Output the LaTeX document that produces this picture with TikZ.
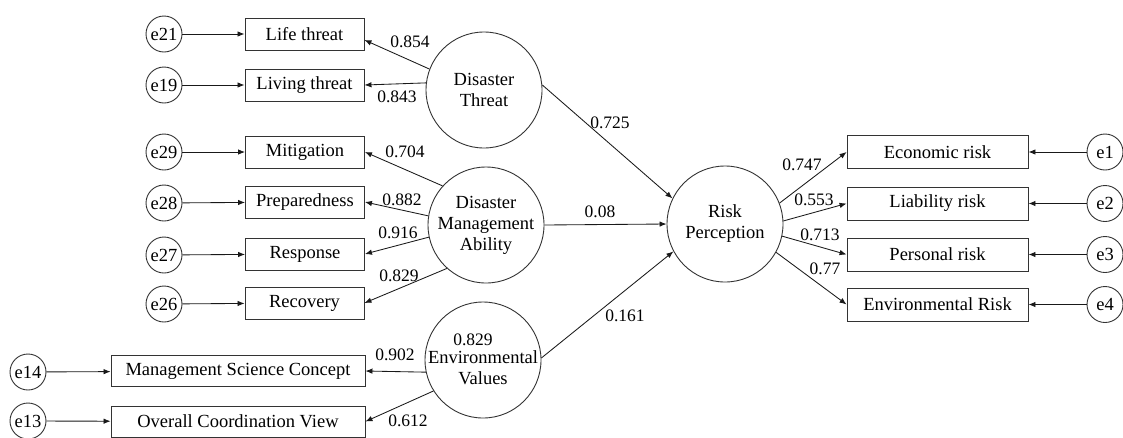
\documentclass[tikz,border=0pt]{standalone}
\usepackage{fontspec}
\setmainfont{Liberation Serif}
\newfontfamily\tnr{Liberation Serif}
\usetikzlibrary{arrows.meta}
\begin{document}
\begin{tikzpicture}[x=1pt,y=-1pt,
  every node/.style={font=\tnr\fontsize{18.5}{21}\selectfont},
  obs/.style={draw=black!80, line width=0.9pt, minimum height=32pt, inner sep=0pt},
  err/.style={draw=black!80, line width=0.9pt, circle, minimum size=36pt, inner sep=0pt},
  lat/.style={draw=black!80, line width=0.9pt, circle, minimum size=116pt, inner sep=0pt, align=center},
  lbl/.style={font=\tnr\fontsize{17.5}{20}\selectfont, inner sep=0pt},
  conn/.style={line width=0.85pt, draw=black!90, -{Latex[length=7pt,width=5.5pt]}},
]
\useasboundingbox (0,0) rectangle (1123,437);

% error terms left
\node[err] (e21) at (164,34) {e21};
\node[err] (e19) at (164,85) {e19};
\node[err] (e29) at (164,152) {e29};
\node[err] (e28) at (164,203) {e28};
\node[err] (e27) at (164,255) {e27};
\node[err] (e26) at (164,304) {e26};
\node[err] (e14) at (28,372) {e14};
\node[err] (e13) at (28,421) {e13};

% observed left
\node[obs, minimum width=119pt] (LT) at (304.5,34) {Life threat};
\node[obs, minimum width=119pt] (LV) at (304.5,85) {Living threat};
\node[obs, minimum width=119pt] (MI) at (305,152) {Mitigation};
\node[obs, minimum width=119pt] (PR) at (305,202) {Preparedness};
\node[obs, minimum width=119pt] (RS) at (305,254) {Response};
\node[obs, minimum width=119pt] (RC) at (304.5,303) {Recovery};
\node[obs, minimum width=254pt, minimum height=31pt] (MSC) at (238,371) {Management Science Concept};
\node[obs, minimum width=254pt, minimum height=31pt] (OCV) at (238,421.5) {Overall Coordination View};

% latent
\node[lat] (DT) at (484,90) {Disaster\\Threat};
\node[lat] (DMA) at (486,225) {Disaster\\Management\\Ability};
\node[lat] (EV) at (483,360) {};
\node[align=center, inner sep=0pt] (EVt) at (483,368) {Environmental\\Values};
\node[lat] (RP) at (725,224) {Risk\\Perception};

% observed right
\node[obs, minimum width=181pt, minimum height=33pt] (EC) at (937.5,152) {Economic risk};
\node[obs, minimum width=181pt, minimum height=33pt] (LI) at (937.5,203.5) {Liability risk};
\node[obs, minimum width=181pt, minimum height=33pt] (PE) at (937.5,254.5) {Personal risk};
\node[obs, minimum width=181pt, minimum height=33pt] (ER) at (937.5,304.5) {Environmental Risk};

% error terms right
\node[err] (e1) at (1105,152) {e1};
\node[err] (e2) at (1105,203.5) {e2};
\node[err] (e3) at (1105,254.5) {e3};
\node[err] (e4) at (1105,304.5) {e4};

% error arrows
\draw[conn] (e21) -- (LT);
\draw[conn] (e19) -- (LV);
\draw[conn] (e29) -- (MI);
\draw[conn] (e28) -- (PR);
\draw[conn] (e27) -- (RS);
\draw[conn] (e26) -- (RC);
\draw[conn] (e14) -- (MSC);
\draw[conn] (e13) -- (OCV);
\draw[conn] (e1) -- (EC);
\draw[conn] (e2) -- (LI);
\draw[conn] (e3) -- (PE);
\draw[conn] (e4) -- (ER);

% loadings
\draw[conn] (DT.159) -- ([yshift=-6pt]LT.east);
\draw[conn] (DT.173) -- (LV.east);
\draw[conn] (DMA.138) -- (MI.east);
\draw[conn] (DMA.171) -- (PR.east);
\draw[conn] (DMA.192) -- (RS.east);
\draw[conn] (DMA.228) -- (RC.east);
\draw[conn] (EV.192) -- (MSC.east);
\draw[conn] (EV.212) -- (OCV.east);

% structural
\draw[conn] (DT.5) -- (RP.154);
\draw[conn] (DMA.east) -- (RP.west);
\draw[conn] (EV.2) -- (RP.208);

% risk indicators
\draw[conn] (RP.21) -- (EC.west);
\draw[conn] (RP.3) -- (LI.west);
\draw[conn] (RP.348) -- (PE.west);
\draw[conn] (RP.331) -- (ER.west);

% labels
\node[lbl] (l1) at (410,42) {0.854};
\node[lbl] (l2) at (397,97) {0.843};
\node[lbl] (l3) at (405,152) {0.704};
\node[lbl] (l4) at (402,200) {0.882};
\node[lbl] (l5) at (398,233) {0.916};
\node[lbl] (l6) at (399,276) {0.829};
\node[lbl] (l7) at (473,340) {0.829};
\node[lbl] (l8) at (395,355) {0.902};
\node[lbl] (l9) at (408,421) {0.612};
\node[lbl] (l10) at (610,123) {0.725};
\node[lbl] (l11) at (600,212) {0.08};
\node[lbl] (l12) at (625,316) {0.161};
\node[lbl] (l13) at (802,165) {0.747};
\node[lbl] (l14) at (814,200) {0.553};
\node[lbl] (l15) at (820,235) {0.713};
\node[lbl] (l16) at (825,269) {0.77};
\end{tikzpicture}
\end{document}
